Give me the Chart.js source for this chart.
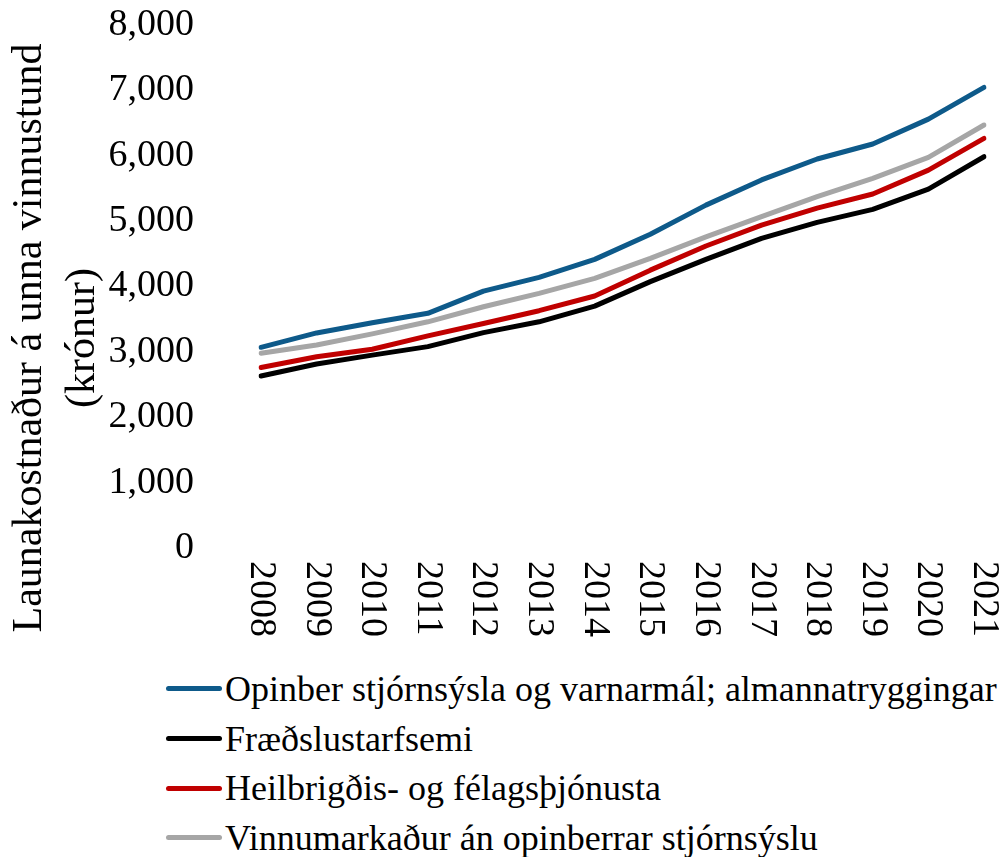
<!DOCTYPE html>
<html>
<head>
<meta charset="utf-8">
<script src="https://cdn.jsdelivr.net/npm/chart.js@4.4.0/dist/chart.umd.min.js"></script>
<style>
  html, body { margin: 0; padding: 0; background: #fff; }
  #wrap { position: relative; width: 1002px; height: 857px; }
  #grafica { position: absolute; left: 0; top: 0; }
  #leyenda { position: absolute; left: 166px; top: 664px; font-family: 'Liberation Serif', serif; font-size: 36px; color: #000; }
  .item { display: flex; align-items: center; height: 49.7px; white-space: nowrap; }
  .item i { display: inline-block; width: 56px; height: 5px; border-radius: 3px; margin-right: 3px; }
</style>
</head>
<body>
<div id="wrap">
  <canvas id="grafica" width="1002" height="660"></canvas>
  <div id="leyenda"></div>
</div>
<script>
// Datos (krónur á unna vinnustund)
const anios = ['2008', '2009', '2010', '2011', '2012', '2013', '2014', '2015', '2016', '2017', '2018', '2019', '2020', '2021'];
const opinber = [3070, 3290, 3445, 3590, 3930, 4140, 4415, 4800, 5245, 5630, 5950, 6180, 6560, 7045];
const fraedsla = [2630, 2815, 2950, 3080, 3295, 3460, 3700, 4075, 4415, 4735, 4980, 5180, 5490, 5985];
const heilbrigdi = [2760, 2925, 3040, 3245, 3435, 3630, 3855, 4250, 4620, 4940, 5200, 5415, 5780, 6265];
const vinnumarkadur = [2980, 3105, 3275, 3460, 3690, 3895, 4125, 4430, 4760, 5070, 5375, 5655, 5975, 6470];
const nombres = [
    'Opinber stjórnsýsla og varnarmál; almannatryggingar',
    'Fræðslustarfsemi',
    'Heilbrigðis- og félagsþjónusta',
    'Vinnumarkaður án opinberrar stjórnsýslu'
];
const tituloY = ['Launakostnaður á unna vinnustund', '(krónur)'];

const fuente = "'Liberation Serif', serif";

// etiquetas del eje x giradas en sentido horario
const etiquetasX = {
    id: 'etiquetasX',
    afterDraw(chart) {
        const { ctx, chartArea } = chart;
        const x = chart.scales.x;
        ctx.save();
        ctx.font = '38px ' + fuente;
        ctx.fillStyle = '#000';
        ctx.textAlign = 'left';
        ctx.textBaseline = 'middle';
        x.ticks.forEach((t, i) => {
            ctx.save();
            ctx.translate(x.getPixelForTick(i), chartArea.bottom + 13);
            ctx.rotate(Math.PI / 2);
            ctx.fillText(x.getLabelForValue(t.value), 0, 0);
            ctx.restore();
        });
        ctx.restore();
    }
};

// título del eje y en dos líneas
const tituloEjeY = {
    id: 'tituloEjeY',
    afterDraw(chart) {
        const ctx = chart.ctx;
        ctx.save();
        ctx.font = '42px ' + fuente;
        ctx.fillStyle = '#000';
        ctx.textAlign = 'center';
        ctx.textBaseline = 'middle';
        tituloY.forEach((linea, i) => {
            ctx.save();
            ctx.translate(30 + i * 53, 338);
            ctx.rotate(-Math.PI / 2);
            ctx.fillText(linea, 0, 0);
            ctx.restore();
        });
        ctx.restore();
    }
};

const serie = (label, data, color) => ({
    label: label,
    data: data,
    borderColor: color,
    backgroundColor: color,
    borderWidth: 5,
    borderCapStyle: 'round',
    borderJoinStyle: 'round',
    pointRadius: 0,
    tension: 0,
    fill: false
});

const grafica = new Chart(document.getElementById('grafica').getContext('2d'), {
    type: 'line',
    data: {
        labels: anios,
        datasets: [
            serie(nombres[0], opinber, '#0E5A8A'),
            serie(nombres[1], fraedsla, '#000000'),
            serie(nombres[2], heilbrigdi, '#C00000'),
            serie(nombres[3], vinnumarkadur, '#A6A6A6')
        ]
    },
    options: {
        responsive: false,
        animation: false,
        layout: { padding: { top: 25, right: 18, left: 0, bottom: 0 } },
        plugins: {
            legend: { display: false },
            tooltip: { enabled: false }
        },
        scales: {
            x: {
                offset: false,
                grid: { display: false, drawTicks: false },
                border: { display: false },
                ticks: { display: false },
                afterFit: (s) => { s.height = 112; }
            },
            y: {
                min: 0,
                max: 8000,
                // la separación de las etiquetas va en tickLength (no suma al alto)
                grid: { display: false, drawTicks: true, tickLength: 67 },
                border: { display: false },
                ticks: {
                    stepSize: 1000,
                    padding: 0,
                    color: '#000',
                    font: { family: fuente, size: 38 },
                    callback: (v) => v.toLocaleString('en-US')
                },
                afterFit: (s) => { s.width = 261; }
            }
        }
    },
    plugins: [etiquetasX, tituloEjeY]
});

// leyenda en HTML a partir de las series
const leyenda = document.getElementById('leyenda');
grafica.data.datasets.forEach((ds) => {
    const fila = document.createElement('div');
    fila.className = 'item';
    const linea = document.createElement('i');
    linea.style.background = ds.borderColor;
    const texto = document.createElement('span');
    texto.textContent = ds.label;
    fila.appendChild(linea);
    fila.appendChild(texto);
    leyenda.appendChild(fila);
});
</script>
</body>
</html>
